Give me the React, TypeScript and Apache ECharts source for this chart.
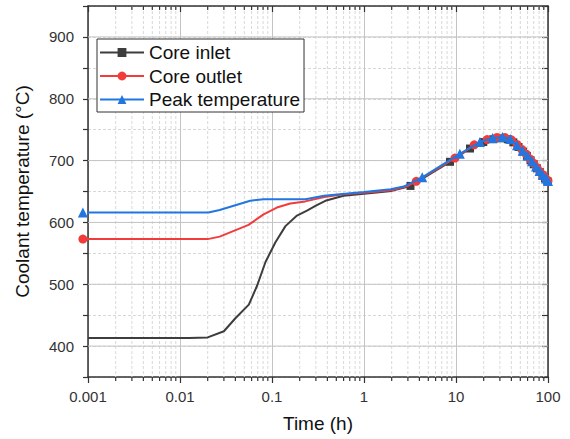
import React, { useEffect, useRef } from 'react';
import * as echarts from 'echarts';

// ---- data ----
const inletLineT = [0.001, 0.0125, 0.02, 0.03, 0.04, 0.056, 0.069, 0.085, 0.109, 0.14, 0.187, 0.24, 0.3, 0.38, 0.6, 1, 2];
const inletLineV = [413, 413, 414, 424, 445, 467, 498, 536, 568, 594, 611, 619, 627, 635, 643, 646.5, 651];
const inletMarkT = [3.2, 8.6, 14.2, 19.8, 25.4, 31, 36.6, 42, 47.8, 53.4, 59, 64.6, 70, 75.8, 81.4, 87, 92.6, 98.2, 100];
const inletMarkV = [659, 698, 719.5, 730, 734.5, 736, 734.5, 729.5, 722, 714.5, 707.5, 700.5, 694, 687.5, 681.5, 676, 671.5, 667, 665.5];

const outletLineT = [0.02, 0.027, 0.0556, 0.081, 0.113, 0.158, 0.23, 0.37, 0.6, 1, 2, 3];
const outletLineV = [573, 577, 596, 613, 624, 630.5, 634, 641, 645.5, 648, 652, 659];
const outletMarkT = [0.00088, 3.7, 9.75, 15.8, 21.8, 27.9, 33.9, 40, 46, 52, 58, 64, 70, 76, 82, 88, 94, 100];
const outletMarkV = [573, 666.5, 704, 725.5, 734, 737.5, 737.5, 733.5, 726, 718, 710.5, 702.5, 695.5, 688.5, 682, 676.5, 671.5, 667.5];

const peakLineT = [0.0204, 0.027, 0.058, 0.081, 0.231, 0.367, 1, 1.95, 2.7];
const peakLineV = [616, 620, 635, 637.5, 637.5, 643, 649, 653.5, 658];
const peakMarkT = [0.00088, 4.3, 11, 18.2, 25, 32, 39, 46, 53, 60, 67, 74, 81, 88, 95, 100];
const peakMarkV = [616, 673, 711, 730, 736.5, 738, 735, 725, 716, 708, 699, 690.5, 683, 676.5, 671, 667];

const seriesNames = ['Core inlet', 'Core outlet', 'Peak temperature'];
const xMinorTicks = [
  0.002, 0.003, 0.004, 0.005, 0.006, 0.007, 0.008, 0.009,
  0.02, 0.03, 0.04, 0.05, 0.06, 0.07, 0.08, 0.09,
  0.2, 0.3, 0.4, 0.5, 0.6, 0.7, 0.8, 0.9,
  2, 3, 4, 5, 6, 7, 8, 9,
  20, 30, 40, 50, 60, 70, 80, 90,
];
const yMajorTicks = [400, 500, 600, 700, 800, 900];

const FONT = '"Liberation Sans", Arial, Helvetica, sans-serif';

function build(lineT: number[], lineV: number[], markT: number[], markV: number[]) {
  const pts: any[] = lineT
    .map((t, i) => ({ value: [t, lineV[i]], symbol: 'none' }))
    .concat(markT.map((t, i) => ({ value: [t, markV[i]] })));
  pts.sort((a, b) => a.value[0] - b.value[0]);
  return pts;
}

export default function App() {
  const ref = useRef<HTMLDivElement>(null);
  useEffect(() => {
    document.body.style.margin = '0';
    if (!ref.current) return;
    const chart = echarts.init(ref.current, null, { renderer: 'svg' });
    const axisColor = '#333';
    const xBase = {
      type: 'log' as const,
      logBase: 10,
      min: 0.001,
      max: 100,
    };
    const option: any = {
      animation: false,
      backgroundColor: '#fff',
      grid: { left: 88, right: 22, top: 6, bottom: 62, containLabel: false },
      legend: {
        data: seriesNames,
        orient: 'vertical',
        left: 97,
        top: 39,
        itemWidth: 44,
        itemHeight: 11,
        itemGap: 4.5,
        padding: [4, 4, 3, 2],
        borderColor: '#333',
        borderWidth: 1,
        borderRadius: 0,
        backgroundColor: '#fff',
        textStyle: { fontSize: 19, lineHeight: 19, color: '#111', fontFamily: FONT },
        z: 10,
      },
      xAxis: [
        {
          ...xBase,
          position: 'bottom',
          name: 'Time (h)',
          nameLocation: 'middle',
          nameGap: 37,
          nameTextStyle: { fontSize: 19, color: '#111', fontFamily: FONT },
          axisLine: { show: true, lineStyle: { color: axisColor, width: 1.5 } },
          axisTick: { show: true, inside: false, length: 6, lineStyle: { color: axisColor, width: 1.2 } },
          axisLabel: {
            fontSize: 15,
            color: '#333',
            fontFamily: FONT,
            margin: 12,
            formatter: (v: number) => String(parseFloat(Number(v).toPrecision(6))),
          },
          splitLine: { show: true, lineStyle: { color: '#c4c4c4', width: 1 } },
        },
        {
          ...xBase,
          position: 'top',
          axisLine: { show: true, lineStyle: { color: axisColor, width: 1.5 } },
          axisTick: { show: true, inside: true, length: 6, lineStyle: { color: axisColor, width: 1.2 } },
          axisLabel: { show: false },
          splitLine: { show: false },
        },
      ],
      yAxis: [
        {
          type: 'value',
          min: 350,
          max: 950,
          interval: 50,
          position: 'left',
          name: 'Coolant temperature (°C)',
          nameLocation: 'middle',
          nameGap: 56,
          nameTextStyle: { fontSize: 19, color: '#111', fontFamily: FONT },
          axisLine: { show: true, lineStyle: { color: axisColor, width: 1.5 } },
          axisTick: { show: true, inside: false, length: 5, lineStyle: { color: axisColor, width: 1.2 } },
          axisLabel: {
            fontSize: 15,
            color: '#333',
            fontFamily: FONT,
            margin: 14,
            formatter: (v: number) => (v % 100 === 0 ? String(v) : ''),
          },
          splitLine: { show: true, lineStyle: { color: '#d8d8d8', width: 1, type: [3, 2] } },
        },
        {
          type: 'value',
          min: 350,
          max: 950,
          interval: 50,
          position: 'right',
          axisLine: { show: true, lineStyle: { color: axisColor, width: 1.5 } },
          axisTick: { show: true, inside: true, length: 6, lineStyle: { color: axisColor, width: 1.2 } },
          axisLabel: { show: false },
          splitLine: { show: false },
        },
      ],
      series: [
        {
          name: 'xminor',
          type: 'custom',
          xAxisIndex: 0,
          yAxisIndex: 0,
          z: 1,
          silent: true,
          clip: false,
          encode: { x: 0, y: 1 },
          data: xMinorTicks.map((v) => [v, 650]),
          renderItem: (params: any, api: any) => {
            const x = api.value(0);
            const top = api.coord([x, 950]);
            const bot = api.coord([x, 350]);
            return {
              type: 'group',
              children: [
                { type: 'line', shape: { x1: top[0], y1: top[1], x2: bot[0], y2: bot[1] }, style: { stroke: '#d8d8d8', lineWidth: 1, lineDash: [3, 2] } },
                { type: 'line', shape: { x1: bot[0], y1: bot[1], x2: bot[0], y2: bot[1] + 4 }, style: { stroke: axisColor, lineWidth: 1.2 } },
                { type: 'line', shape: { x1: top[0], y1: top[1], x2: top[0], y2: top[1] + 4 }, style: { stroke: axisColor, lineWidth: 1.2 } },
              ],
            };
          },
        },
        {
          name: 'ymajor',
          type: 'custom',
          xAxisIndex: 0,
          yAxisIndex: 0,
          z: 1,
          silent: true,
          encode: { x: 0, y: 1 },
          data: yMajorTicks.map((v) => [1, v]),
          renderItem: (params: any, api: any) => {
            const y = api.value(1);
            const a = api.coord([0.001, y]);
            const b = api.coord([100, y]);
            return { type: 'line', shape: { x1: a[0], y1: a[1], x2: b[0], y2: b[1] }, style: { stroke: '#c4c4c4', lineWidth: 1 } };
          },
        },
        {
          name: seriesNames[0],
          type: 'line',
          z: 3,
          clip: false,
          data: build(inletLineT, inletLineV, inletMarkT, inletMarkV),
          symbol: 'rect',
          symbolSize: 8,
          showAllSymbol: true,
          color: '#3d3d3d',
          lineStyle: { color: '#3d3d3d', width: 2 },
          itemStyle: { color: '#3d3d3d' },
        },
        {
          name: seriesNames[1],
          type: 'line',
          z: 4,
          clip: false,
          data: build(outletLineT, outletLineV, outletMarkT, outletMarkV),
          symbol: 'circle',
          symbolSize: 9,
          showAllSymbol: true,
          color: '#f23c3c',
          lineStyle: { color: '#f23c3c', width: 2 },
          itemStyle: { color: '#f23c3c' },
        },
        {
          name: seriesNames[2],
          type: 'line',
          z: 5,
          clip: false,
          data: build(peakLineT, peakLineV, peakMarkT, peakMarkV),
          symbol: 'triangle',
          symbolSize: 10,
          showAllSymbol: true,
          color: '#2176e0',
          lineStyle: { color: '#2176e0', width: 2 },
          itemStyle: { color: '#2176e0' },
        },
      ],
    };
    chart.setOption(option);
    return () => chart.dispose();
  }, []);
  return <div ref={ref} style={{ width: 570, height: 439 }} />;
}
